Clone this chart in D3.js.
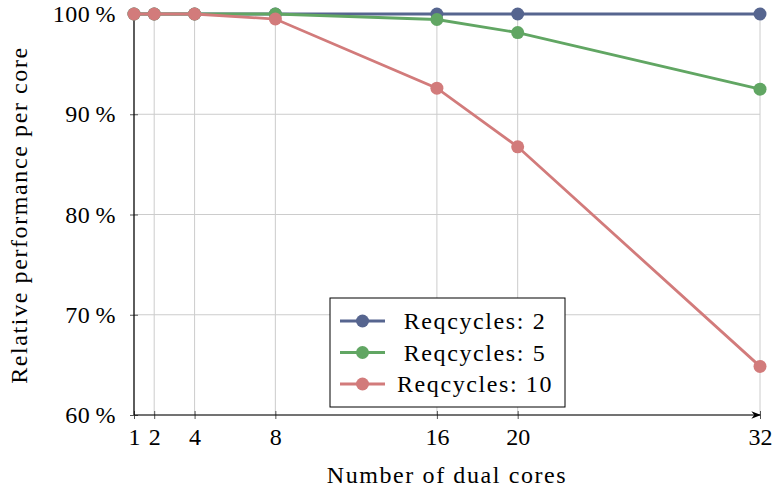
<!DOCTYPE html>
<html lang="en">
<head>
<meta charset="UTF-8">
<title>Relative performance per core</title>
<style>
    body { margin: 0; background: #fff; }
</style>
</head>
<body>
<svg id="chart"></svg>
<script src="https://cdn.jsdelivr.net/npm/d3@7"></script>
<script>

    var cores = [1, 2, 4, 8, 16, 20, 32];
    var req2 = [100, 100, 100, 100, 100, 100, 100];
    var req5 = [100, 100, 100, 100, 99.45, 98.15, 92.5];
    var req10 = [100, 100, 100, 99.5, 92.6, 86.75, 64.85];
    var seriesNames = ["Reqcycles: 2", "Reqcycles: 5", "Reqcycles: 10"];
    var yTicks = [60, 70, 80, 90, 100];

    var colors = ["#56658f", "#61a663", "#d27b7b"];
    var allSeries = [req2, req5, req10];

    var svgWidth = 776, svgHeight = 492;
    var mLeft = 134, mRight = 760, mTop = 14, mBottom = 415;
    var serif = "'Liberation Serif', 'Times New Roman', serif";
    var fontSize = 24;

    function styleText(sel) {
        sel.attr("font-family", serif)
            .style("font-family", serif)
            .style("font-size", fontSize + "px")
            .style("letter-spacing", "1.6px")
            .style("fill", "#000");
    }

    var svg = d3.select('#chart')
        .attr('width', svgWidth)
        .attr('height', svgHeight);

    var xScale = d3.scaleLinear().domain([1, 32]).range([mLeft, mRight]);
    var yScale = d3.scaleLinear().domain([60, 100]).range([mBottom, mTop]);

    // grid
    svg.append("g").selectAll("line")
        .data(cores)
        .enter().append("line")
        .attr("x1", function(d) { return xScale(d); })
        .attr("x2", function(d) { return xScale(d); })
        .attr("y1", mTop).attr("y2", mBottom)
        .style("stroke", "#cccccc").style("stroke-width", 1);

    svg.append("g").selectAll("line")
        .data(yTicks)
        .enter().append("line")
        .attr("x1", mLeft).attr("x2", mRight)
        .attr("y1", function(d) { return yScale(d); })
        .attr("y2", function(d) { return yScale(d); })
        .style("stroke", "#cccccc").style("stroke-width", 1);

    // axes
    var xAxis = d3.axisBottom(xScale).tickValues(cores).tickSize(4).tickSizeOuter(0).tickPadding(6);
    var gx = svg.append("g").attr("transform", "translate(0," + mBottom + ")").call(xAxis);
    gx.select(".domain").remove();
    gx.selectAll(".tick line").attr("y1", -4).attr("y2", 4).style("stroke", "#555");
    gx.selectAll("text").call(styleText).style("letter-spacing", "0px").attr("dy", "0.85em");

    var yAxis = d3.axisLeft(yScale).tickValues(yTicks).tickSize(4).tickSizeOuter(0).tickPadding(14)
        .tickFormat(function(d) { return d + "\u2009%"; });
    var gy = svg.append("g").attr("transform", "translate(" + mLeft + ",0)").call(yAxis);
    gy.select(".domain").remove();
    gy.selectAll(".tick line").attr("x1", -4).attr("x2", 4).style("stroke", "#555");
    gy.selectAll("text").call(styleText).style("letter-spacing", "0.5px");

    svg.append("defs").append("marker")
        .attr("id", "arrow").attr("viewBox", "0 0 10 10")
        .attr("refX", 9).attr("refY", 5)
        .attr("markerWidth", 8).attr("markerHeight", 8)
        .attr("orient", "auto")
        .append("path").attr("d", "M0,1 L10,5 L0,9 L3,5 Z").style("fill", "#000");

    svg.append("line")
        .attr("x1", mLeft).attr("x2", mRight).attr("y1", mBottom).attr("y2", mBottom)
        .style("stroke", "#000").style("stroke-width", 1.2)
        .attr("marker-end", "url(#arrow)");
    svg.append("line")
        .attr("x1", mLeft).attr("x2", mLeft).attr("y1", mBottom).attr("y2", mTop)
        .style("stroke", "#000").style("stroke-width", 1.2);

    // lines
    var line = d3.line()
        .x(function(d, i) { return xScale(cores[i]); })
        .y(function(d) { return yScale(d); });

    allSeries.forEach(function(s, k) {
        svg.append("path")
            .datum(s)
            .attr("d", line)
            .style("fill", "none")
            .style("stroke", colors[k])
            .style("stroke-width", 2.8);
        svg.append("g").selectAll("circle")
            .data(s)
            .enter().append("circle")
            .attr("cx", function(d, i) { return xScale(cores[i]); })
            .attr("cy", function(d) { return yScale(d); })
            .attr("r", 6.5)
            .style("fill", colors[k]);
    });

    // legend
    var lg = svg.append("g").attr("transform", "translate(330,298)");
    lg.append("rect").attr("width", 235).attr("height", 109)
        .style("fill", "#fff").style("stroke", "#000").style("stroke-width", 1);
    seriesNames.forEach(function(n, k) {
        var yy = 23 + k * 31.5;
        lg.append("line").attr("x1", 10).attr("x2", 55).attr("y1", yy).attr("y2", yy)
            .style("stroke", colors[k]).style("stroke-width", 2.8);
        lg.append("circle").attr("cx", 32.5).attr("cy", yy).attr("r", 6.5).style("fill", colors[k]);
        lg.append("text").attr("x", 145).attr("y", yy).attr("dy", "0.35em")
            .attr("text-anchor", "middle").call(styleText).text(n);
    });

    // axis titles
    svg.append("text").attr("x", 447).attr("y", 483)
        .attr("text-anchor", "middle").call(styleText)
        .text("Number of dual cores");
    svg.append("text")
        .attr("transform", "translate(27," + 215 + ") rotate(-90)")
        .attr("text-anchor", "middle").call(styleText)
        .text("Relative performance per core");

</script>
</body>
</html>
